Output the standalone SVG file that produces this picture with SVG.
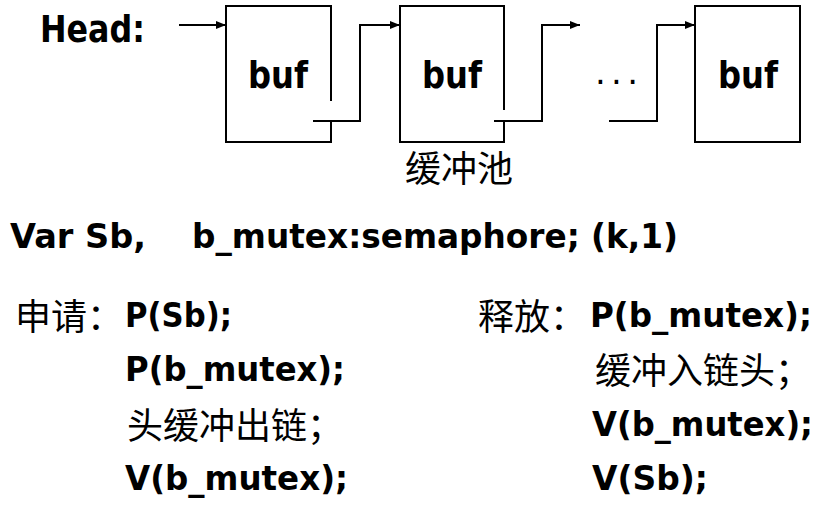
<svg xmlns="http://www.w3.org/2000/svg" width="830" height="515" viewBox="0 0 830 515">
<defs>
<marker id="arr" markerUnits="userSpaceOnUse" markerWidth="10" markerHeight="8" refX="10" refY="4" orient="auto">
<path d="M0,0 L10,4 L0,8 z" fill="#000"/>
</marker>
<style>
.lat{font-family:"DejaVu Sans","Liberation Sans",sans-serif;font-weight:bold;font-size:34px;fill:#000}
.cjk{font-family:"Noto Sans CJK SC","Noto Sans CJK JP",sans-serif;font-size:36px;fill:#000}
.box{fill:none;stroke:#000;stroke-width:2}
.con{fill:none;stroke:#000;stroke-width:2}
.buf{font-family:"DejaVu Sans","Liberation Sans",sans-serif;font-weight:bold;font-size:38px;fill:#000}
</style>
</defs>
<rect width="830" height="515" fill="#fff"/>
<g id="head">
<text class="buf" x="40" y="42" textLength="105" lengthAdjust="spacingAndGlyphs">Head:</text>
</g>
<g id="buf1">
<path class="box" d="M331,101 V6 H226 V142 H331 V121"/>
<text class="buf" x="248" y="88" textLength="60" lengthAdjust="spacingAndGlyphs">buf</text>
</g>
<g id="buf2">
<path class="box" d="M504,110 V6 H400 V142 H504 V121"/>
<text class="buf" x="422" y="88" textLength="60" lengthAdjust="spacingAndGlyphs">buf</text>
</g>
<g id="ellipsis">
<text class="lat" x="595" y="84" textLength="43" style="font-weight:normal">...</text>
</g>
<g id="buf3">
<rect class="box" x="695" y="6" width="105" height="136"/>
<text class="buf" x="718" y="88" textLength="60" lengthAdjust="spacingAndGlyphs">buf</text>
</g>
<g id="pool">
<text class="cjk" x="405" y="182">缓冲池</text>
</g>
<g id="connectors">
<path class="con" d="M179,25 H226" marker-end="url(#arr)"/>
<path class="con" d="M313,121 H360 V25 H400" marker-end="url(#arr)"/>
<path class="con" d="M494,121 H542 V25 H580" marker-end="url(#arr)"/>
<path class="con" d="M609,121 H657 V25 H695" marker-end="url(#arr)"/>
</g>
<g id="decl">
<text class="lat" x="10" y="248" textLength="136" lengthAdjust="spacingAndGlyphs">Var Sb,</text>
<text class="lat" x="192" y="248" textLength="486" lengthAdjust="spacingAndGlyphs">b_mutex:semaphore; (k,1)</text>
</g>
<g id="apply">
<text class="cjk" x="15" y="330">申请：</text>
<text class="lat" x="125" y="327" textLength="107" lengthAdjust="spacingAndGlyphs">P(Sb);</text>
<text class="lat" x="125" y="381" textLength="220" lengthAdjust="spacingAndGlyphs">P(b_mutex);</text>
<text class="cjk" x="127" y="439">头缓冲出链；</text>
<text class="lat" x="125" y="490" textLength="223" lengthAdjust="spacingAndGlyphs">V(b_mutex);</text>
</g>
<g id="release">
<text class="cjk" x="478" y="330">释放：</text>
<text class="lat" x="590" y="327" textLength="222" lengthAdjust="spacingAndGlyphs">P(b_mutex);</text>
<text class="cjk" x="595" y="384">缓冲入链头；</text>
<text class="lat" x="592" y="436" textLength="221" lengthAdjust="spacingAndGlyphs">V(b_mutex);</text>
<text class="lat" x="592" y="490" textLength="116" lengthAdjust="spacingAndGlyphs">V(Sb);</text>
</g>
</svg>
